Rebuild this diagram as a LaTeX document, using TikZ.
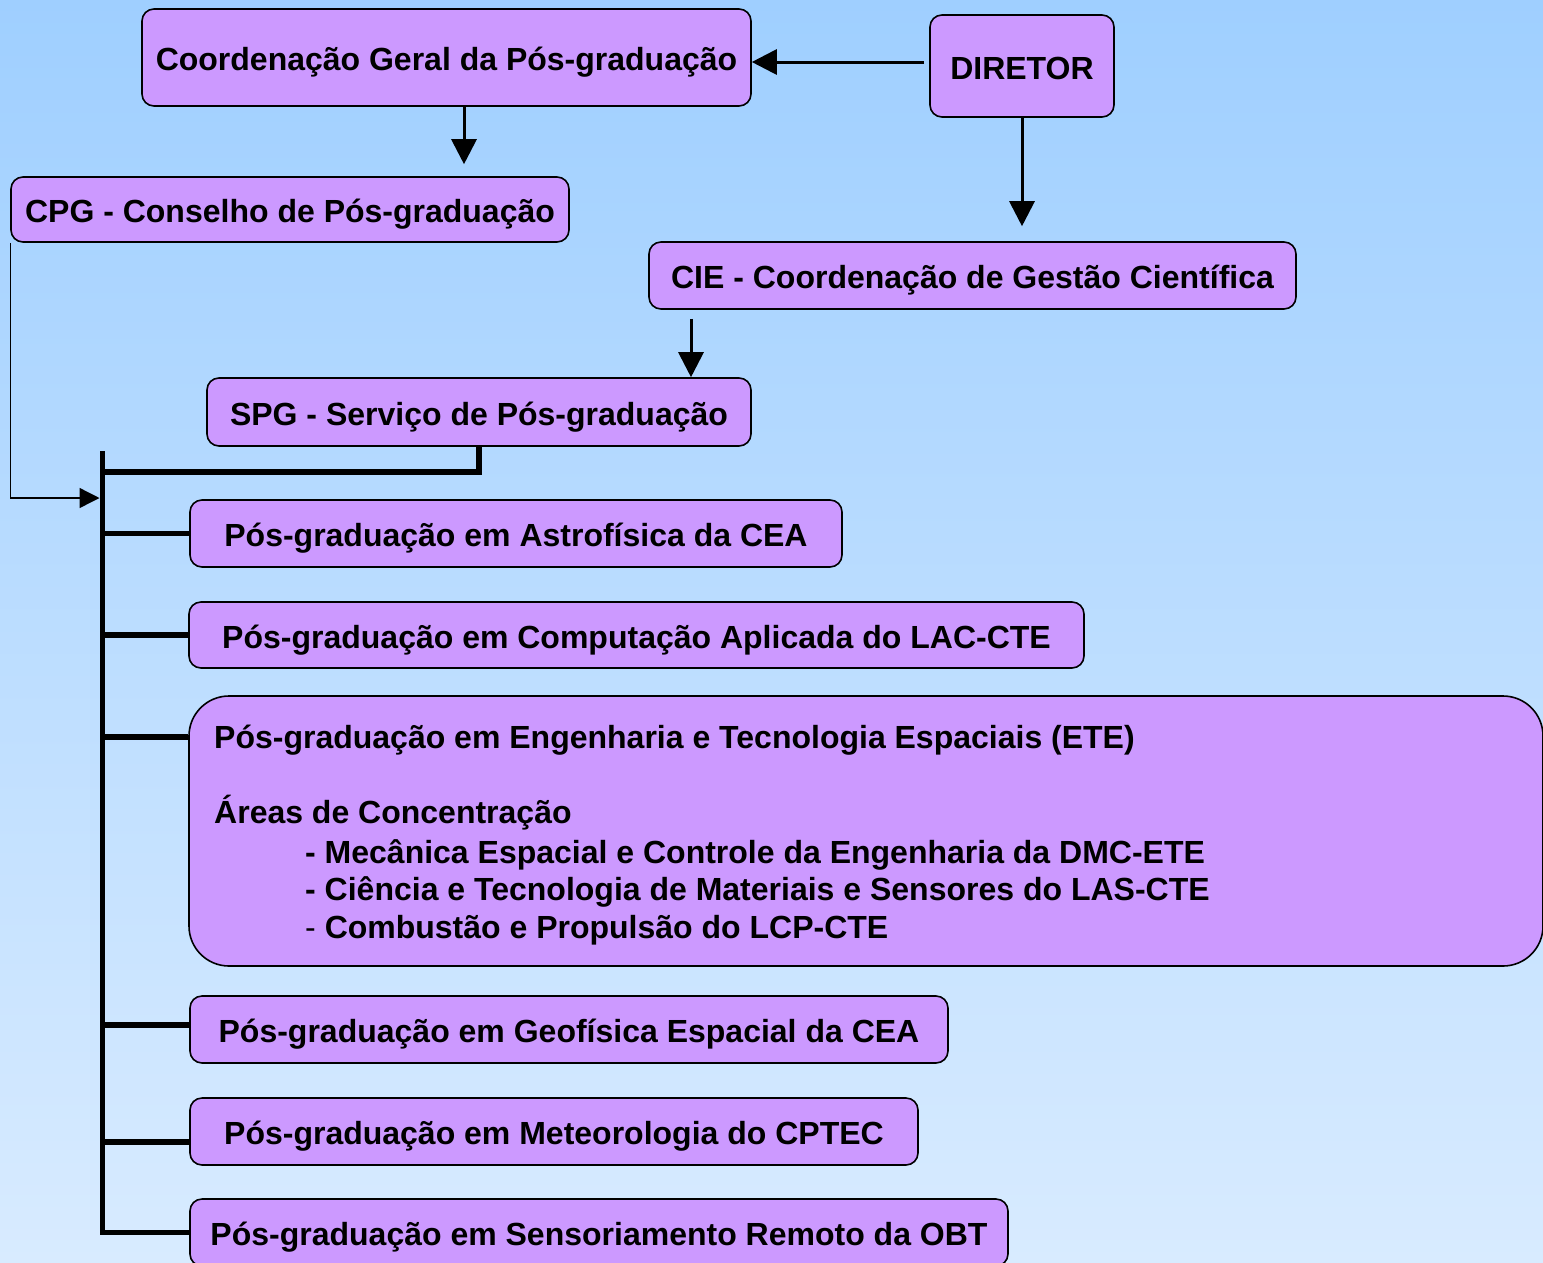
\documentclass[tikz,border=0pt]{standalone}
\usepackage{fontspec}
\setmainfont{Liberation Sans}
\usetikzlibrary{arrows.meta}
\definecolor{boxfill}{HTML}{CC99FF}
\definecolor{bgtop}{HTML}{9FCFFF}
\definecolor{bgbot}{HTML}{D8EBFF}
\tikzset{
  unit/.style={draw=black, fill=boxfill, line width=1.6pt, rounded corners=12pt,
    font=\fontsize{32}{38}\selectfont\bfseries, inner sep=0pt,
    text height=28pt, text depth=2pt},
  lbl/.style={font=\fontsize{32}{38}\selectfont\bfseries, inner sep=0pt,
    text height=24pt, text depth=2pt, anchor=west},
  arr/.style={line width=3pt, -{Triangle[length=25pt,width=25pt]}},
  thinarr/.style={line width=1.4pt, -{Triangle[length=20pt,width=20pt]}},
  trunk/.style={line width=5.5pt},
}
\begin{document}
\begin{tikzpicture}[x=1pt,y=-1pt]
\useasboundingbox (0,0) rectangle (1543,1262);
\shade[top color=bgtop, bottom color=bgbot] (0,0) rectangle (1543,1262);

\node[unit, minimum width=609pt, minimum height=97pt] (cg) at (446.5,57.5) {Coordenação Geral da Pós-graduação};
\node[unit, minimum width=184pt, minimum height=102pt] (dir) at (1022,66) {DIRETOR};
\node[unit, minimum width=558pt, minimum height=65pt] (cpg) at (290,209.5) {CPG - Conselho de Pós-graduação};
\node[unit, minimum width=647pt, minimum height=67pt] (cie) at (972.5,275.5) {CIE - Coordenação de Gestão Científica};
\node[unit, minimum width=544pt, minimum height=68pt] (spg) at (479,412) {SPG - Serviço de Pós-graduação};
\node[unit, minimum width=652pt, minimum height=67pt] (astro) at (516,533.5) {Pós-graduação em Astrofísica da CEA};
\node[unit, minimum width=895pt, minimum height=66pt] (comp) at (636.5,635) {Pós-graduação em Computação Aplicada do LAC-CTE};
\node[unit, rounded corners=40pt, minimum width=1354pt, minimum height=270pt] (ete) at (866,831) {};
\node[lbl] (ete1) at (214,737) {Pós-graduação em Engenharia e Tecnologia Espaciais (ETE)};
\node[lbl] (ete2) at (214,812) {Áreas de Concentração};
\node[lbl] (ete3) at (305,852) {- Mecânica Espacial e Controle da Engenharia da DMC-ETE};
\node[lbl] (ete4) at (305,889) {- Ciência e Tecnologia de Materiais e Sensores do LAS-CTE};
\node[lbl] (ete5) at (305,927) {{\mdseries -} Combustão e Propulsão do LCP-CTE};
\node[unit, minimum width=758pt, minimum height=67pt] (geof) at (569,1029.5) {Pós-graduação em Geofísica Espacial da CEA};
\node[unit, minimum width=728pt, minimum height=67pt] (meteo) at (554,1131.5) {Pós-graduação em Meteorologia do CPTEC};
\node[unit, minimum width=818pt, minimum height=67pt] (sens) at (599,1232.5) {Pós-graduação em Sensoriamento Remoto da OBT};

% arrows
\coordinate (d1) at ([shift={(-5,-4)}]dir.west);
\draw[arr] (d1) -- (cg.east |- d1);
\draw[arr, shorten >=12pt] ([xshift=17.5pt]cg.south) -- ([xshift=17.5pt]cg.south |- cpg.north);
\draw[arr, shorten >=15pt] (dir.south) -- (dir.south |- cie.north);
\draw[arr, shorten <=9pt] ([xshift=212pt]spg.north |- cie.south) -- ([xshift=212pt]spg.north);

% trunk
\coordinate (bartop) at (102.5,451);
\coordinate (barbot) at (102.5,1235);
\coordinate (spgj) at (100,472);
\coordinate (cpgj) at (99.5,498);
\coordinate (geofj) at (102.5,1025);
\coordinate (meteoj) at (102.5,1142);
\draw[trunk] (bartop) -- (barbot);
\draw[trunk] (spg.south) |- (spgj);
\draw[thinarr] (cpg.south west) |- (cpgj);
\draw[trunk] (bartop |- astro.west) -- (astro.west);
\draw[trunk] (bartop |- comp.west) -- (comp.west);
\draw[trunk] (bartop |- ete1.west) -- (ete.west |- ete1.west);
\draw[trunk] (geofj) -- (geof.west |- geofj);
\draw[trunk] (meteoj) -- (meteo.west |- meteoj);
\draw[trunk] (bartop |- sens.west) -- (sens.west);
\end{tikzpicture}
\end{document}
